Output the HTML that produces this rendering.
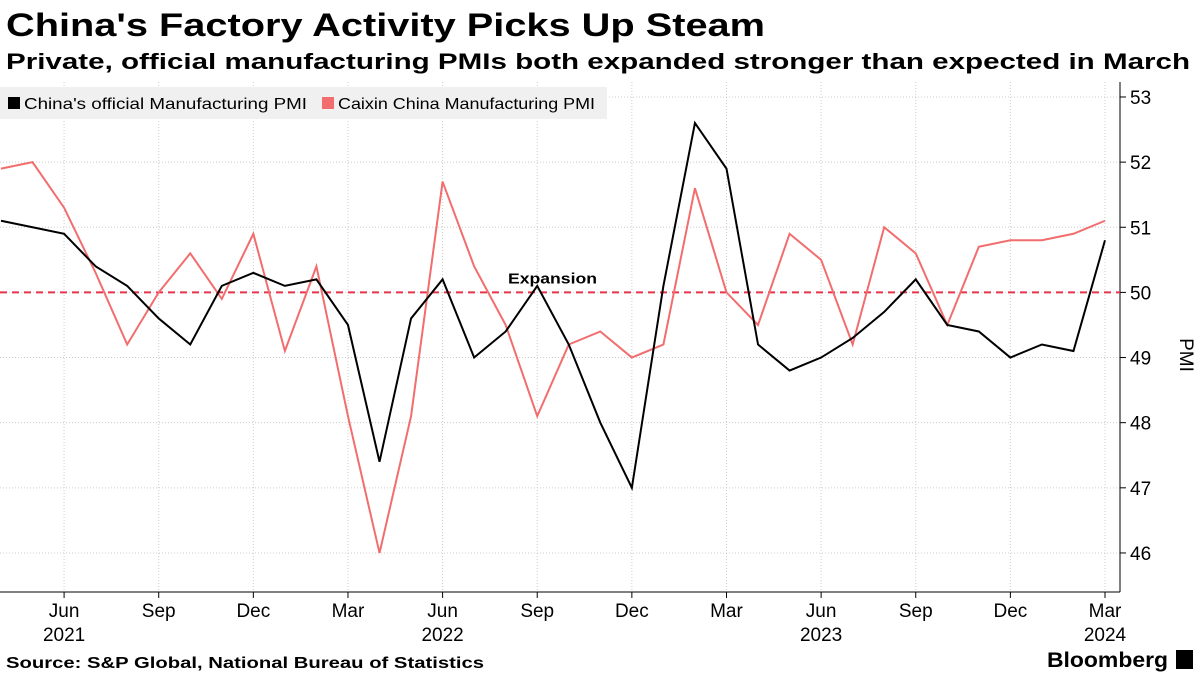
<!DOCTYPE html>
<html><head><meta charset="utf-8"><style>
body{margin:0;width:1200px;height:675px;background:#fff;font-family:"DejaVu Sans","Liberation Sans",sans-serif;overflow:hidden;position:relative}
</style></head><body>
<svg id="c" width="1200" height="675" style="position:absolute;left:0;top:0"></svg>
<script>
const official=[51.1,51.0,50.9,50.4,50.1,49.6,49.2,50.1,50.3,50.1,50.2,49.5,47.4,49.6,50.2,49.0,49.4,50.1,49.2,48.0,47.0,50.1,52.6,51.9,49.2,48.8,49.0,49.3,49.7,50.2,49.5,49.4,49.0,49.2,49.1,50.8];
const caixin=[51.9,52.0,51.3,50.3,49.2,50.0,50.6,49.9,50.9,49.1,50.4,48.1,46.0,48.1,51.7,50.4,49.5,48.1,49.2,49.4,49.0,49.2,51.6,50.0,49.5,50.9,50.5,49.2,51.0,50.6,49.5,50.7,50.8,50.8,50.9,51.1];
const yTicks=[46,47,48,49,50,51,52,53];
const xTickIdx=[2,5,8,11,14,17,20,23,26,29,32,35];
const xTickLabels=["Jun","Sep","Dec","Mar","Jun","Sep","Dec","Mar","Jun","Sep","Dec","Mar"];
const yearIdx=[2,14,26,35];
const yearLabels=["2021","2022","2023","2024"];
const NS="http://www.w3.org/2000/svg",svg=document.getElementById('c');
const x=i=>1+i*(1105-1)/35;
const y=v=>292.4-(v-50)*65.14;
function el(t,a,p){const e=document.createElementNS(NS,t);for(const k in a)e.setAttribute(k,a[k]);(p||svg).appendChild(e);return e;}
const ff='"Liberation Sans",sans-serif';
function txt(s,a){const t=el('text',Object.assign({'font-family':ff,lengthAdjust:'spacingAndGlyphs'},a));t.textContent=s;return t;}
let t0=txt("China's Factory Activity Picks Up Steam",{x:6,y:36,'font-size':32,'font-weight':'bold',textLength:759});


let t1=txt("Private, official manufacturing PMIs both expanded stronger than expected in March",{x:6,y:69,'font-size':22,'font-weight':'bold',textLength:1184});


let t2=txt("Source: S&P Global, National Bureau of Statistics",{x:6,y:668,'font-size':16,'font-weight':'bold',textLength:478});


let t3=txt("Bloomberg",{x:1047,y:667,'font-size':21,'font-weight':'bold',textLength:121});


let lgI=el('rect',{x:1176,y:650,width:17,height:19,fill:'#000'});


yTicks.forEach(v=>{
 const g=el('line',{x1:0,x2:1120,y1:y(v),y2:y(v),stroke:'#ccc','stroke-dasharray':'1,2'});
 
 
 el('line',{x1:1120,x2:1126,y1:y(v),y2:y(v),stroke:'#000'});
 const t=el('text',{x:1130,y:y(v)+7,'font-size':19,fill:'#000','font-family':ff});t.textContent=v;
 
 
});
xTickIdx.forEach((i,k)=>{
 const g=el('line',{x1:x(i),x2:x(i),y1:82,y2:592,stroke:'#ccc','stroke-dasharray':'1,2'});
 
 
 el('line',{x1:x(i),x2:x(i),y1:592,y2:598,stroke:'#000'});
 const t=el('text',{x:x(i),y:617,'font-size':19,'text-anchor':'middle','font-family':ff});t.textContent=xTickLabels[k];
 
 
});
yearIdx.forEach((i,k)=>{const t=el('text',{x:x(i),y:641,'font-size':19,'text-anchor':'middle','font-family':ff});t.textContent=yearLabels[k];
 
 });
el('line',{x1:1120,x2:1120,y1:82,y2:592,stroke:'#000'});
el('line',{x1:0,x2:1120,y1:592,y2:592,stroke:'#000'});
const pl=el('text',{x:1180,y:355,'font-size':19,'text-anchor':'middle','font-family':ff,transform:'rotate(90 1180 355)'});pl.textContent='PMI';


const ex=el('line',{x1:0,x2:1120,y1:y(50),y2:y(50),stroke:'#e8344b','stroke-width':2,'stroke-dasharray':'7,5'});


const et=txt('Expansion',{x:508,y:y(50)-9,'font-size':15,'font-weight':'bold',textLength:89});


const pts=a=>a.map((v,i)=>x(i)+','+y(v)).join(' ');
const l2=el('polyline',{points:pts(caixin),fill:'none',stroke:'#f26d6d','stroke-width':2});


const l1=el('polyline',{points:pts(official),fill:'none',stroke:'#000','stroke-width':2});


const lg=el('rect',{x:0,y:87,width:607,height:32,fill:'#f0f0f0'});


el('rect',{x:8,y:97,width:12,height:12,fill:'#000'});
const a=txt("China's official Manufacturing PMI",{x:24,y:109,'font-size':16,textLength:283});


el('rect',{x:322,y:97,width:12,height:12,fill:'#f26d6d'});
const b=txt("Caixin China Manufacturing PMI",{x:338,y:109,'font-size':16,textLength:257});


</script>
</body></html>
